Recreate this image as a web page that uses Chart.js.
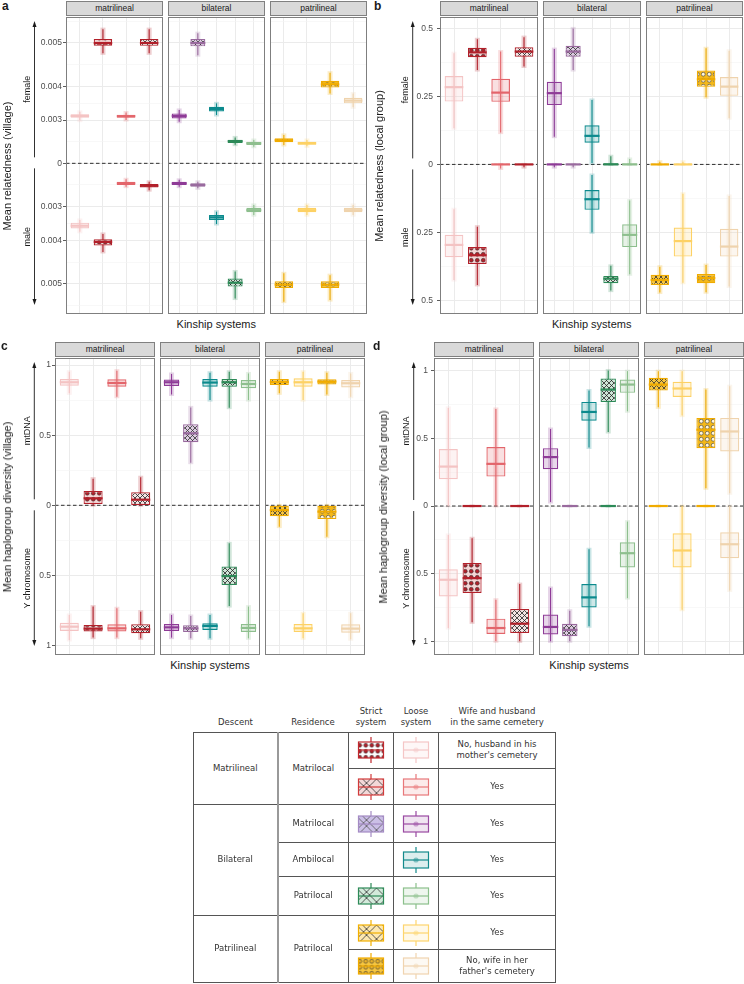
<!DOCTYPE html>
<html>
<head>
<meta charset="utf-8">
<script src="https://cdn.jsdelivr.net/npm/chart.js@4.4.1/dist/chart.umd.min.js"></script>
<style>
  body { margin: 0; background: #fff; }
  #fig { position: relative; width: 744px; height: 984px; overflow: hidden; font-family: "Liberation Sans", Arial, sans-serif; color: #1a1a1a; }
  #fig > canvas { position: absolute; }
  .strip { position: absolute; height: 15px; background: #d9d9d9; border: 1px solid #808080; box-sizing: border-box; font-size: 8.5px; line-height: 13px; text-align: center; color: #1a1a1a; }
  .tag { position: absolute; font-weight: bold; font-size: 12px; line-height: 12px; }
  .ytitle { position: absolute; font-size: 11px; white-space: nowrap; transform: translate(-50%, -50%) rotate(-90deg); }
  .xtitle { position: absolute; font-size: 11px; white-space: nowrap; transform: translate(-50%, -50%); }
  #key { position: absolute; left: 193px; top: 703px; border-collapse: collapse; table-layout: fixed; font-family: "DejaVu Sans", sans-serif; font-size: 8.5px; color: #333; }
  #key th { font-weight: normal; vertical-align: bottom; padding: 0 0 3px 0; line-height: 11.5px; border: none; }
  #key td { border: 1px solid #555; text-align: center; vertical-align: middle; padding: 0; line-height: 11.5px; }
  #key td.desc { border-right: 2px solid #999; }
  #key canvas { display: block; margin: 0 auto; }
</style>
</head>
<body>
<div id="fig"></div>
<script>
// facets and the kinship systems inside each, left to right
const facets = ["matrilineal", "bilateral", "patrilineal"];
const matriSystems = ["loose, husband apart", "strict, husband apart", "loose", "strict"];
const bilatSystems = ["matrilocal loose", "matrilocal strict", "ambilocal", "patrilocal strict", "patrilocal loose"];
const patriSystems = ["strict", "loose", "strict, wife apart", "loose, wife apart"];

// box stats per system: [low whisker, q1, median, q3, high whisker]
// a) mean relatedness (village)
const aFemaleMatri = [[0.00298, 0.00308, 0.00314, 0.00319, 0.00327], [0.00478, 0.00494, 0.0050, 0.00508, 0.00528],
                      [0.0030, 0.00308, 0.00313, 0.00318, 0.00325], [0.00478, 0.00494, 0.0050, 0.00508, 0.00528]];
const aMaleMatri = [[0.00343, 0.00351, 0.0036, 0.00368, 0.00377], [0.00383, 0.00397, 0.00404, 0.00413, 0.00429],
                    [0.00182, 0.00196, 0.00204, 0.00212, 0.0022], [0.00196, 0.00207, 0.00216, 0.00224, 0.00236]];
const aFemaleBilat = [[0.00294, 0.00305, 0.00314, 0.00322, 0.00333], [0.00474, 0.00493, 0.0050, 0.00508, 0.0052],
                      [0.00317, 0.00328, 0.00336, 0.00343, 0.00353], [0.00197, 0.00205, 0.00214, 0.00221, 0.00232],
                      [0.00186, 0.00195, 0.00204, 0.00212, 0.0022]];
const aMaleBilat = [[0.00185, 0.00196, 0.00204, 0.00212, 0.0022], [0.00196, 0.00204, 0.00212, 0.0022, 0.00228],
                    [0.00317, 0.00328, 0.00335, 0.00343, 0.00355], [0.00474, 0.00489, 0.00498, 0.00506, 0.0053],
                    [0.00294, 0.00304, 0.00312, 0.00319, 0.00328]];
const aFemalePatri = [[0.00195, 0.00209, 0.00219, 0.00228, 0.00243], [0.00188, 0.00196, 0.00204, 0.00212, 0.0022],
                      [0.00381, 0.00397, 0.00405, 0.00414, 0.00434], [0.00341, 0.00353, 0.00361, 0.00369, 0.00381]];
const aMalePatri = [[0.00478, 0.00495, 0.00502, 0.00509, 0.00536], [0.00294, 0.00304, 0.00312, 0.00319, 0.00328],
                    [0.00482, 0.00495, 0.00502, 0.00509, 0.00533], [0.00294, 0.00304, 0.00312, 0.00319, 0.00328]];

// b) mean relatedness (local group)
const bFemaleMatri = [[0.133, 0.231, 0.284, 0.325, 0.409], [0.347, 0.394, 0.412, 0.429, 0.46],
                      [0.117, 0.23, 0.264, 0.315, 0.415], [0.36, 0.396, 0.415, 0.431, 0.468]];
const bMaleMatri = [[0.165, 0.259, 0.296, 0.341, 0.425], [0.229, 0.304, 0.334, 0.366, 0.443],
                    [0, 0, 0, 0, 0.015], [0, 0, 0, 0, 0.01]];
const bFemaleBilat = [[0.102, 0.218, 0.262, 0.304, 0.424], [0.347, 0.396, 0.415, 0.436, 0.5],
                      [0.005, 0.08, 0.105, 0.144, 0.237], [0, 0, 0, 0.004, 0.03], [0, 0, 0, 0.003, 0.02]];
const bMaleBilat = [[0, 0, 0, 0, 0.01], [0, 0, 0, 0, 0.01], [0.039, 0.094, 0.128, 0.167, 0.25],
                    [0.373, 0.41, 0.42, 0.437, 0.464], [0.133, 0.22, 0.259, 0.304, 0.404]];
const bFemalePatri = [[0, 0, 0, 0, 0.01], [0, 0, 0, 0, 0.01],
                      [0.247, 0.286, 0.313, 0.345, 0.427], [0.17, 0.252, 0.286, 0.321, 0.418]];
const bMalePatri = [[0.376, 0.406, 0.425, 0.443, 0.471], [0.108, 0.232, 0.282, 0.339, 0.435],
                    [0.37, 0.403, 0.418, 0.437, 0.47], [0.116, 0.237, 0.302, 0.339, 0.449]];

// c) mean haplogroup diversity (village): mtDNA up, Y chromosome down
const cFemaleMatri = [[0.798, 0.853, 0.877, 0.9, 0.952], [0, 0.01, 0.05, 0.102, 0.19],
                      [0.774, 0.845, 0.872, 0.898, 0.96], [0, 0.002, 0.04, 0.093, 0.2]];
const cMaleMatri = [[0.782, 0.837, 0.865, 0.896, 0.96], [0.722, 0.853, 0.879, 0.9, 0.943],
                    [0.734, 0.848, 0.877, 0.9, 0.943], [0.758, 0.848, 0.884, 0.912, 0.948]];
const cFemaleBilat = [[0.79, 0.85, 0.877, 0.897, 0.936], [0.304, 0.449, 0.513, 0.577, 0.698],
                      [0.75, 0.845, 0.875, 0.9, 0.945], [0.696, 0.845, 0.877, 0.9, 0.952],
                      [0.75, 0.834, 0.865, 0.893, 0.94]];
const cMaleBilat = [[0.782, 0.846, 0.87, 0.896, 0.943], [0.789, 0.855, 0.877, 0.903, 0.948],
                    [0.782, 0.841, 0.86, 0.889, 0.948], [0.271, 0.437, 0.504, 0.568, 0.718],
                    [0.722, 0.846, 0.874, 0.903, 0.948]];
const cFemalePatri = [[0.798, 0.857, 0.879, 0.9, 0.952], [0.75, 0.845, 0.877, 0.905, 0.952],
                      [0.79, 0.862, 0.882, 0.898, 0.945], [0.774, 0.84, 0.87, 0.893, 0.94]];
const cMalePatri = [[0, 0, 0.034, 0.078, 0.152], [0.77, 0.846, 0.877, 0.903, 0.948],
                    [0, 0, 0.045, 0.098, 0.224], [0.77, 0.848, 0.879, 0.908, 0.955]];

// d) mean haplogroup diversity (local group)
const dFemaleMatri = [[0, 0.198, 0.291, 0.42, 0.724], [0, 0, 0, 0, 0],
                      [0, 0.217, 0.311, 0.435, 0.716], [0, 0, 0, 0, 0]];
const dMaleMatri = [[0.213, 0.466, 0.544, 0.667, 0.9], [0.238, 0.421, 0.532, 0.642, 0.858],
                    [0.691, 0.831, 0.9, 0.944, 0.998], [0.576, 0.76, 0.868, 0.936, 0.998]];
const dFemaleBilat = [[0.03, 0.272, 0.361, 0.427, 0.568], [0, 0, 0, 0, 0],
                      [0.432, 0.63, 0.694, 0.768, 0.852], [0.546, 0.768, 0.859, 0.941, 1.0],
                      [0.699, 0.835, 0.896, 0.933, 0.995]];
const dMaleBilat = [[0.605, 0.801, 0.892, 0.948, 0.998], [0.772, 0.868, 0.914, 0.961, 0.998],
                    [0.319, 0.576, 0.674, 0.748, 0.887], [0, 0, 0, 0, 0],
                    [0.115, 0.267, 0.348, 0.453, 0.679]];
const dFemalePatri = [[0.728, 0.852, 0.896, 0.946, 0.995], [0.667, 0.805, 0.867, 0.916, 0.995],
                      [0.131, 0.427, 0.563, 0.65, 0.859], [0.094, 0.402, 0.55, 0.65, 0.884]];
const dMalePatri = [[0, 0, 0, 0, 0], [0, 0.201, 0.328, 0.453, 0.765],
                    [0, 0, 0, 0, 0], [0, 0.194, 0.282, 0.385, 0.623]];

// tick labels (mirrored on both halves)
const aTicks = [0, 0.003, 0.004, 0.005];
const bTicks = [0, 0.25, 0.5];
const cTicks = [0, 0.5, 1];
const dTicks = [0, 0.5, 1];

// look of each system
const matriStyle = [
  { col: "#f4c3c3" },
  { col: "#b2202a", pat: "dots", bg: "#f5d6d6", fg: "#b2202a" },
  { col: "#e3656b" },
  { col: "#b2202a", pat: "cross", bg: "#f3e4e4", fg: "#222" }
];
const bilatStyle = [
  { col: "#8e3b97" },
  { col: "#996a9e", pat: "cross", bg: "#dccbe0", fg: "#333" },
  { col: "#0b8a8d" },
  { col: "#2d8a58", pat: "cross", bg: "#cfe5d7", fg: "#222" },
  { col: "#8ebf8e" }
];
const patriStyle = [
  { col: "#f0ab00", pat: "cross", bg: "#f6c53e", fg: "#333" },
  { col: "#fdd164" },
  { col: "#f0ab00", pat: "dots", bg: "#f3b81a", fg: "#fff6dc" },
  { col: "#efd3ad" }
];
const styles = [matriStyle, bilatStyle, patriStyle];

const panels = [
  { tag: "a", x0: 0, top: 17, bottom: 314, left: [65.7, 167.9, 270.1], width: 96.8, ymin: -31.3, ymax: 30.4, square: true,
    ticks: aTicks, female: [aFemaleMatri, aFemaleBilat, aFemalePatri], male: [aMaleMatri, aMaleBilat, aMalePatri],
    title: "Mean relatedness (village)", up: "female", down: "male", titleX: 7, arrowX: 34.5, gap: 4, tagX: 2, tagY: 0 },
  { tag: "b", x0: 372, top: 17, bottom: 314, left: [440.3, 542.9, 645.5], width: 97.6, ymin: -0.55, ymax: 0.542, square: false,
    ticks: bTicks, female: [bFemaleMatri, bFemaleBilat, bFemalePatri], male: [bMaleMatri, bMaleBilat, bMalePatri],
    title: "Mean relatedness (local group)", up: "female", down: "male", titleX: 379, arrowX: 412.7, gap: 7, tagX: 374, tagY: 0 },
  { tag: "c", x0: 0, top: 358, bottom: 655, left: [55, 160, 265], width: 100, ymin: -1.067, ymax: 1.05, square: false,
    ticks: cTicks, female: [cFemaleMatri, cFemaleBilat, cFemalePatri], male: [cMaleMatri, cMaleBilat, cMalePatri],
    title: "Mean haplogroup diversity (village)", up: "mtDNA", down: "Y chromosome", titleX: 7, arrowX: 34.3, gap: 4, tagX: 1, tagY: 340 },
  { tag: "d", x0: 372, top: 358, bottom: 655, left: [434.3, 539.3, 644.3], width: 99.5, ymin: -1.099, ymax: 1.092, square: false,
    ticks: dTicks, female: [dFemaleMatri, dFemaleBilat, dFemalePatri], male: [dMaleMatri, dMaleBilat, dMalePatri],
    title: "Mean haplogroup diversity (local group)", up: "mtDNA", down: "Y chromosome", titleX: 383, arrowX: 413.7, gap: 6, tagX: 373, tagY: 340 }
];

const fig = document.getElementById("fig");

function rgba(hex, a) {
  const n = parseInt(hex.slice(1), 16);
  return `rgba(${n >> 16},${(n >> 8) & 255},${n & 255},${a})`;
}

function makePattern(type, bg, fg, size, dbl) {
  const c = document.createElement("canvas");
  c.width = c.height = size;
  const g = c.getContext("2d");
  g.fillStyle = bg;
  g.fillRect(0, 0, size, size);
  if (type === "dots") {
    g.fillStyle = fg;
    g.strokeStyle = "#3a3a3a";
    g.lineWidth = 0.6;
    g.beginPath();
    g.arc(size / 2, size / 2, size * 0.3, 0, Math.PI * 2);
    g.fill();
    g.stroke();
  } else {
    g.strokeStyle = fg;
    g.lineWidth = 0.8;
    g.beginPath();
    const offs = dbl ? [0, size * 0.3] : [0];
    for (const d of offs) {
      for (const o of [-size, 0, size]) {
        g.moveTo(o + d, 0); g.lineTo(o + d + size, size);
        g.moveTo(o + size - d, 0); g.lineTo(o - d, size);
      }
    }
    g.stroke();
  }
  return g.createPattern(c, "repeat");
}

function el(cls, txt, css) {
  const d = document.createElement("div");
  d.className = cls;
  d.textContent = txt;
  Object.assign(d.style, css);
  fig.appendChild(d);
  return d;
}

// whiskers, medians, zero line, panel border and side arrows
const kinPlugin = {
  id: "kin",
  beforeDatasetsDraw(chart) {
    const o = chart.canvas.kin;
    if (!o) return;
    const { ctx, chartArea: a, scales: { x, y } } = chart;
    ctx.save();
    ctx.beginPath();
    ctx.rect(a.left, a.top, a.right - a.left, a.bottom - a.top);
    ctx.clip();
    const y0 = y.getPixelForValue(0);
    ctx.setLineDash([3.5, 2.5]);
    ctx.strokeStyle = "#1a1a1a";
    ctx.lineWidth = 0.9;
    ctx.beginPath();
    ctx.moveTo(a.left, y0);
    ctx.lineTo(a.right, y0);
    ctx.stroke();
    ctx.setLineDash([]);
    o.sides.forEach(side => side.stats.forEach((s, i) => {
      const px = x.getPixelForValue(i);
      const lo = y.getPixelForValue(side.sign * o.disp(s[0]));
      const hi = y.getPixelForValue(side.sign * o.disp(s[4]));
      const col = o.styles[i].col;
      ctx.fillStyle = rgba(col, 0.22);
      ctx.fillRect(px - 2.5, Math.min(lo, hi) - 1.5, 5, Math.abs(hi - lo) + 3);
      ctx.strokeStyle = col;
      ctx.lineWidth = 1.1;
      ctx.beginPath();
      ctx.moveTo(px, lo);
      ctx.lineTo(px, hi);
      ctx.stroke();
    }));
    ctx.restore();
  },
  afterDatasetsDraw(chart) {
    const o = chart.canvas.kin;
    if (!o) return;
    const { ctx, chartArea: a, scales: { y } } = chart;
    ctx.save();
    o.sides.forEach((side, k) => {
      const meta = chart.getDatasetMeta(k);
      side.stats.forEach((s, i) => {
        const bar = meta.data[i];
        const py = y.getPixelForValue(side.sign * o.disp(s[2]));
        ctx.strokeStyle = o.styles[i].col;
        ctx.lineWidth = 2.2;
        ctx.beginPath();
        ctx.moveTo(bar.x - bar.width / 2, py);
        ctx.lineTo(bar.x + bar.width / 2, py);
        ctx.stroke();
      });
    });
    ctx.strokeStyle = "#7f7f7f";
    ctx.lineWidth = 1;
    ctx.strokeRect(a.left + 0.5, a.top + 0.5, a.right - a.left - 1, a.bottom - a.top - 1);
    ctx.restore();
  },
  afterDraw(chart) {
    const o = chart.canvas.kin;
    if (!o || !o.arrow) return;
    const { ctx, chartArea: a, scales: { y } } = chart;
    const y0 = y.getPixelForValue(0);
    const ax = o.arrow.x;
    ctx.save();
    ctx.strokeStyle = "#1a1a1a";
    ctx.fillStyle = "#1a1a1a";
    ctx.lineWidth = 0.9;
    const arrow = (from, to) => {
      const dir = Math.sign(to - from);
      ctx.beginPath();
      ctx.moveTo(ax, from);
      ctx.lineTo(ax, to - dir * 4);
      ctx.stroke();
      ctx.beginPath();
      ctx.moveTo(ax, to);
      ctx.lineTo(ax - 2, to - dir * 6);
      ctx.lineTo(ax + 2, to - dir * 6);
      ctx.closePath();
      ctx.fill();
    };
    const upFrom = y0 - 6, upTo = a.top + 4, dnFrom = y0 + 5, dnTo = a.bottom - 9;
    arrow(upFrom, upTo);
    arrow(dnFrom, dnTo);
    ctx.font = "9px 'Liberation Sans', Arial, sans-serif";
    ctx.textAlign = "center";
    ctx.textBaseline = "middle";
    [[o.arrow.up, (upFrom + upTo) / 2], [o.arrow.down, (dnFrom + dnTo) / 2]].forEach(([t, cy]) => {
      ctx.save();
      ctx.translate(ax - 7, cy);
      ctx.rotate(-Math.PI / 2);
      ctx.fillText(t, 0, 0);
      ctx.restore();
    });
    ctx.restore();
  }
};
Chart.register(kinPlugin);

function makeFacet(p, k) {
  const st = styles[k];
  const n = st.length;
  const first = k === 0;
  const top = Math.round(p.top);
  const left = first ? p.x0 : Math.round(p.left[k]);
  const right = Math.round(p.left[k] + p.width);
  const yw = first ? Math.round(p.left[0]) - p.x0 : 0;
  const cv = document.createElement("canvas");
  cv.width = right - left;
  cv.height = Math.round(p.bottom) - top;
  cv.style.left = left + "px";
  cv.style.top = top + "px";
  fig.appendChild(cv);

  const disp = v => p.square ? Math.pow(v * 1000, 2) : v;
  cv.kin = {
    disp, styles: st,
    sides: [{ stats: p.female[k], sign: 1 }, { stats: p.male[k], sign: -1 }],
    arrow: first ? { x: p.arrowX - p.x0, up: p.up, down: p.down } : null
  };

  // mirrored ticks with minor breaks half way
  const major = p.ticks.map(disp);
  let yTicks = [];
  p.ticks.forEach((v, i) => {
    yTicks.push({ value: major[i], lbl: String(v) });
    if (v) yTicks.push({ value: -major[i], lbl: String(v) });
  });
  const mids = [];
  for (let i = 1; i < major.length; i++) mids.push((major[i - 1] + major[i]) / 2);
  mids.push(major[major.length - 1] + (major[major.length - 1] - major[major.length - 2]) / 2);
  mids.forEach(m => yTicks.push({ value: m, lbl: "", minor: true }, { value: -m, lbl: "", minor: true }));
  yTicks = yTicks.filter(t => t.value >= p.ymin && t.value <= p.ymax).sort((u, w) => u.value - w.value);

  const fill = st.map(s => s.pat ? makePattern(s.pat, s.bg, s.fg, s.pat === "dots" ? 6.5 : 5) : rgba(s.col, 0.2));
  const dsFor = (stats, sign) => ({
    data: stats.map((s, i) => ({ x: i, y: [sign * disp(s[1]), sign * disp(s[3])] })),
    backgroundColor: fill,
    borderColor: st.map(s => s.col),
    borderWidth: 1.2,
    borderSkipped: false,
    grouped: false,
    barPercentage: 0.8,
    categoryPercentage: 1
  });

  new Chart(cv, {
    type: "bar",
    data: { datasets: [dsFor(p.female[k], 1), dsFor(p.male[k], -1)] },
    options: {
      responsive: false,
      animation: false,
      devicePixelRatio: 1,
      events: [],
      layout: { padding: 0 },
      plugins: { legend: { display: false }, tooltip: { enabled: false } },
      scales: {
        x: {
          type: "linear", min: -0.6, max: n - 0.4, offset: false,
          afterBuildTicks: s => { s.ticks = st.map((_, i) => ({ value: i })); },
          afterFit: s => { s.height = 0; s.paddingLeft = 0; s.paddingRight = 0; },
          ticks: { display: false },
          border: { display: false },
          grid: { color: "#ebebeb", lineWidth: 1, drawTicks: false, offset: false }
        },
        y: {
          type: "linear", min: p.ymin, max: p.ymax,
          afterBuildTicks: s => { s.ticks = yTicks.map(t => ({ ...t })); },
          afterFit: s => { s.width = yw; s.paddingTop = 0; s.paddingBottom = 0; },
          ticks: {
            display: first, autoSkip: false, padding: p.gap - 3, color: "#4d4d4d",
            font: { family: "'Liberation Sans', Arial, sans-serif", size: 8.5 },
            callback: (v, i, ts) => ts[i].lbl
          },
          border: { display: false },
          grid: {
            color: c => c.tick && c.tick.minor ? "#f3f3f3" : "#ebebeb",
            lineWidth: c => c.tick && c.tick.minor ? 0.6 : 1,
            drawTicks: first, tickLength: 3, tickWidth: 0.8,
            tickColor: c => c.tick && c.tick.minor ? "rgba(0,0,0,0)" : "#333"
          }
        }
      }
    }
  });

  el("strip", facets[k], {
    left: Math.round(p.left[k]) + "px", top: (top - 16) + "px", width: (right - Math.round(p.left[k])) + "px"
  });
}

panels.forEach(p => {
  [0, 1, 2].forEach(k => makeFacet(p, k));
  el("tag", p.tag, { left: p.tagX + "px", top: p.tagY + "px" });
  const mid = (p.top + p.bottom) / 2;
  el("ytitle", p.title, { left: p.titleX + "px", top: mid + "px" });
  el("xtitle", "Kinship systems", { left: ((p.left[0] + p.left[2] + p.width) / 2) + "px", top: (p.bottom + 10) + "px" });
});

// ---- key table
const keyStrict = [
  { col: "#c0282d", pat: "dots", bg: "#ffffff", fg: "#b2202a" },
  { col: "#d23a3a", pat: "cross", bg: "#f3d9d9", fg: "#333" },
  { col: "#a48bc4", pat: "cross", bg: "#cbbfe6", fg: "#555" },
  null,
  { col: "#2d8a58", pat: "cross", bg: "#d3eadb", fg: "#333" },
  { col: "#f2b000", pat: "cross", bg: "#fde8b0", fg: "#333" },
  { col: "#f0ab00", pat: "dots", bg: "#f6c640", fg: "#eab22a" }
];
const keyLoose = ["#f5c6c6", "#e8787b", "#9a4aa2", "#138a8c", "#8cc08c", "#fdd56e", "#f0d4b0"];
const keyDescent = [["Matrilineal", 2], null, ["Bilateral", 3], null, null, ["Patrilineal", 2], null];
const keyResidence = [["Matrilocal", 2], null, ["Matrilocal", 1], ["Ambilocal", 1], ["Patrilocal", 1], ["Patrilocal", 2], null];
const keySame = ["No, husband in his<br>mother's cemetery", "Yes", "Yes", "Yes", "Yes", "Yes", "No, wife in her<br>father's cemetery"];
const keyRowH = [36.3, 36.5, 37.6, 34.4, 38.6, 34.4, 32.5];

function drawIcon(cv, strict, col) {
  const g = cv.getContext("2d");
  const cx = cv.width / 2, cy = cv.height / 2, bw = 25, bh = 16;
  const c = strict ? strict.col : col;
  g.strokeStyle = c;
  g.lineWidth = 1.2;
  g.beginPath();
  g.moveTo(cx, cy - bh / 2 - 5); g.lineTo(cx, cy - bh / 2);
  g.moveTo(cx, cy + bh / 2); g.lineTo(cx, cy + bh / 2 + 5);
  g.stroke();
  g.fillStyle = strict ? makePattern(strict.pat, strict.bg, strict.fg, strict.pat === "dots" ? 6.5 : 20, true) : rgba(col, 0.15);
  g.save();
  g.translate(cx - bw / 2 - 2, cy - bh / 2);
  g.fillRect(2, 0, bw, bh);
  g.restore();
  g.strokeRect(cx - bw / 2, cy - bh / 2, bw, bh);
  g.beginPath();
  g.moveTo(cx - bw / 2, cy); g.lineTo(cx + bw / 2, cy);
  g.stroke();
  if (!strict) {
    g.fillStyle = rgba(col, 0.45);
    g.beginPath();
    g.arc(cx, cy, 2.6, 0, Math.PI * 2);
    g.fill();
  }
}

const tbl = document.createElement("table");
tbl.id = "key";
const colW = [84, 71, 44, 45, 117];
let html = "<colgroup>" + colW.map(w => `<col style="width:${w}px">`).join("") + "</colgroup>";
html += `<tr style="height:29px"><th>Descent</th><th>Residence</th><th>Strict<br>system</th><th>Loose<br>system</th><th>Wife and husband<br>in the same cemetery</th></tr>`;
keyRowH.forEach((h, r) => {
  html += `<tr style="height:${h}px">`;
  if (keyDescent[r]) html += `<td class="desc" rowspan="${keyDescent[r][1]}">${keyDescent[r][0]}</td>`;
  if (keyResidence[r]) html += `<td rowspan="${keyResidence[r][1]}">${keyResidence[r][0]}</td>`;
  html += `<td><canvas id="ks${r}" width="44" height="32"></canvas></td>`;
  html += `<td><canvas id="kl${r}" width="44" height="32"></canvas></td>`;
  html += `<td>${keySame[r]}</td></tr>`;
});
tbl.innerHTML = html;
fig.appendChild(tbl);
keyRowH.forEach((h, r) => {
  if (keyStrict[r]) drawIcon(document.getElementById("ks" + r), keyStrict[r], null);
  drawIcon(document.getElementById("kl" + r), null, keyLoose[r]);
});
</script>
</body>
</html>
